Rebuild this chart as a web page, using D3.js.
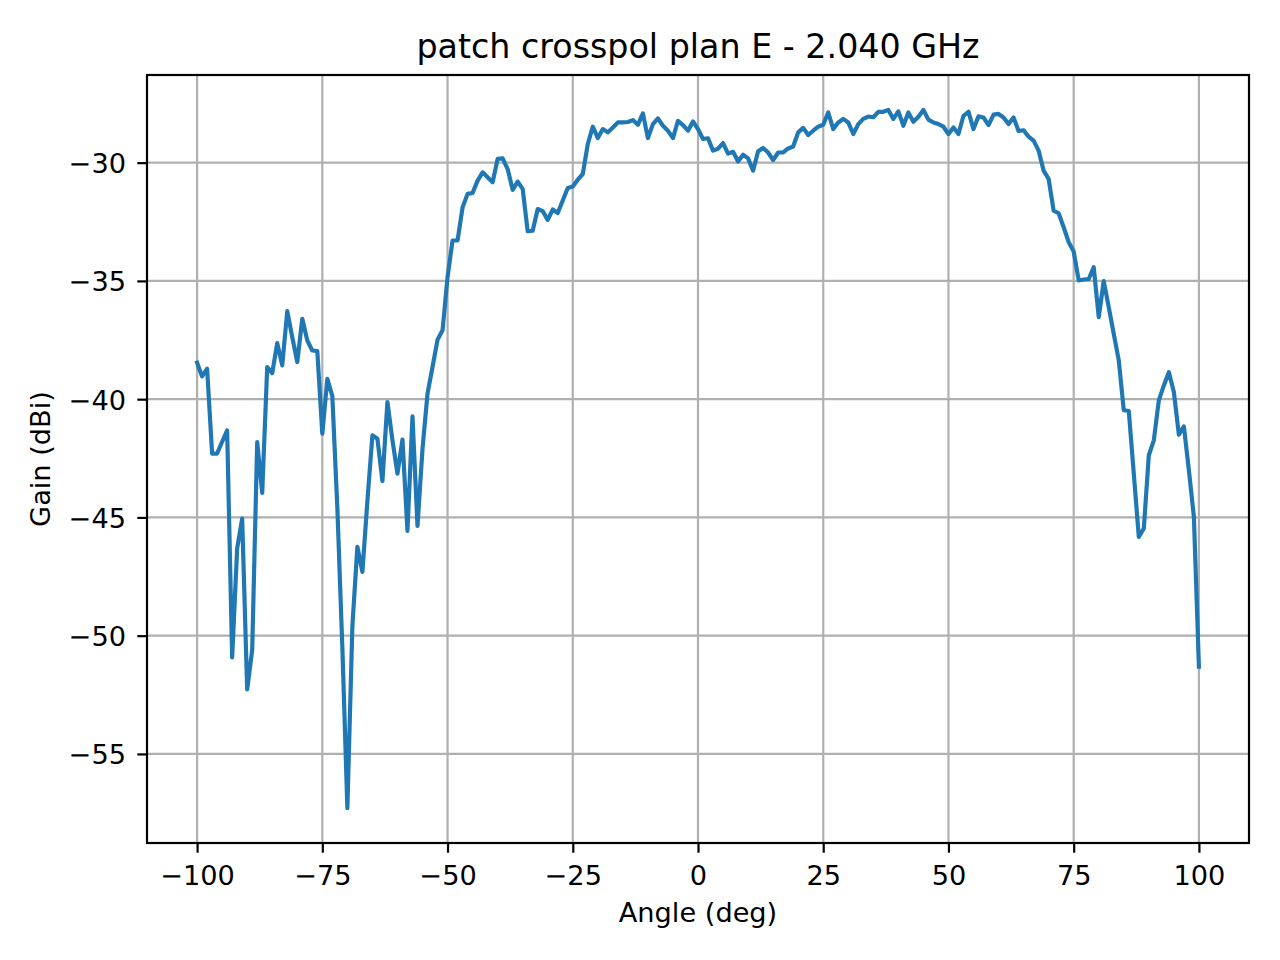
<!DOCTYPE html>
<html>
<head>
<meta charset="utf-8">
<script src="https://cdn.jsdelivr.net/npm/d3@7"></script>
<style>
  html, body { margin: 0; padding: 0; background: #fff; }
  svg { display: block; }
  text { font-family: "DejaVu Sans", sans-serif; fill: #000; }
</style>
</head>
<body>
<svg id="chart" width="1280" height="960"></svg>
<script>
const title = "patch crosspol plan E - 2.040 GHz";
const xLabel = "Angle (deg)";
const yLabel = "Gain (dBi)";
const xTicks = [-100, -75, -50, -25, 0, 25, 50, 75, 100];
const yTicks = [-55, -50, -45, -40, -35, -30];
const angles = d3.range(-100, 101, 1);
const gain = [
  -38.46, -39.04, -38.71, -42.30, -42.30, -41.80, -41.32, -50.92, -46.31, -45.05,
  -52.27, -50.61, -41.81, -43.96, -38.64, -38.90, -37.63, -38.57, -36.28, -37.38,
  -38.43, -36.60, -37.52, -37.94, -37.97, -41.46, -39.14, -39.87, -44.60, -50.50,
  -57.29, -49.60, -46.24, -47.30, -44.30, -41.53, -41.67, -43.46, -40.12, -41.74,
  -43.15, -41.71, -45.57, -40.73, -45.36, -42.10, -39.77, -38.64, -37.49, -37.09,
  -34.84, -33.29, -33.29, -31.89, -31.32, -31.28, -30.76, -30.41, -30.62, -30.83,
  -29.84, -29.82, -30.27, -31.15, -30.80, -31.11, -32.90, -32.88, -31.96, -32.05,
  -32.42, -31.98, -32.13, -31.60, -31.07, -31.01, -30.72, -30.48, -29.21, -28.48,
  -28.96, -28.58, -28.72, -28.51, -28.30, -28.30, -28.28, -28.20, -28.40, -27.92,
  -28.96, -28.37, -28.13, -28.44, -28.65, -28.96, -28.23, -28.41, -28.65, -28.26,
  -28.58,
  -29.00, -28.97, -29.49, -29.41, -29.17, -29.62, -29.54, -29.95, -29.66, -29.82,
  -30.34, -29.52, -29.38, -29.57, -29.89, -29.57, -29.57, -29.40, -29.32, -28.72,
  -28.53, -28.83, -28.65, -28.48, -28.40, -27.88, -28.58, -28.30, -28.15, -28.30,
  -28.79, -28.37, -28.15, -28.05, -28.08, -27.85, -27.85, -27.77, -28.15, -27.83,
  -28.44, -27.88, -28.27, -28.06, -27.77, -28.18, -28.30, -28.37, -28.48, -28.79,
  -28.51, -28.79, -28.02, -27.85, -28.58, -28.04, -28.09, -28.41, -27.97, -27.94,
  -28.09, -28.37, -28.09, -28.66, -28.63, -28.90, -29.07, -29.49, -30.34, -30.69,
  -32.03, -32.14, -32.73, -33.36, -33.76, -34.98, -34.94, -34.92, -34.42, -36.53,
  -35.01, -36.11, -37.24, -38.36, -40.47, -40.50, -43.15, -45.82, -45.47, -42.37,
  -41.74, -40.05, -39.42, -38.86, -39.70, -41.50, -41.15, -43.01, -44.98, -51.31
];

const W = 1280, H = 960;
const box = { left: 147, right: 1249, top: 75, bottom: 843 };
const svg = d3.select("#chart");

const xMin = d3.min(angles), xMax = d3.max(angles);
const xPad = (xMax - xMin) * 0.05;
const yMin = d3.min(gain), yMax = d3.max(gain);
const yPad = (yMax - yMin) * 0.05;

const x = d3.scaleLinear().domain([xMin - xPad, xMax + xPad]).range([box.left, box.right]);
const y = d3.scaleLinear().domain([yMin - yPad, yMax + yPad]).range([box.bottom, box.top]);

const fmt = v => (v < 0 ? "\u2212" + Math.abs(v) : String(v));
const fs = 27.2;
const lw = 2.2;

// grid
const grid = svg.append("g");
grid.selectAll("line.gx").data(xTicks).enter().append("line")
  .attr("x1", d => x(d)).attr("x2", d => x(d))
  .attr("y1", box.top).attr("y2", box.bottom)
  .attr("stroke", "#b0b0b0").attr("stroke-width", lw);
grid.selectAll("line.gy").data(yTicks).enter().append("line")
  .attr("y1", d => y(d)).attr("y2", d => y(d))
  .attr("x1", box.left).attr("x2", box.right)
  .attr("stroke", "#b0b0b0").attr("stroke-width", lw);

// line
const clipId = "plotclip";
svg.append("clipPath").attr("id", clipId).append("rect")
  .attr("x", box.left).attr("y", box.top)
  .attr("width", box.right - box.left).attr("height", box.bottom - box.top);
const line = d3.line().x((d, i) => x(angles[i])).y(d => y(d));
svg.append("path").datum(gain)
  .attr("d", line)
  .attr("fill", "none")
  .attr("stroke", "#1f77b4")
  .attr("stroke-width", 4.17)
  .attr("stroke-linejoin", "round")
  .attr("stroke-linecap", "square")
  .attr("clip-path", `url(#${clipId})`);

// axes via d3
const xAxis = d3.axisBottom(x).tickValues(xTicks).tickFormat(fmt).tickSize(9.7).tickPadding(9.7).tickSizeOuter(0);
const yAxis = d3.axisLeft(y).tickValues(yTicks).tickFormat(fmt).tickSize(9.7).tickPadding(9.7).tickSizeOuter(0);

const gx = svg.append("g").attr("transform", `translate(0,${box.bottom})`).call(xAxis);
const gy = svg.append("g").attr("transform", `translate(${box.left},0)`).call(yAxis);
[gx, gy].forEach(g => {
  g.select(".domain").remove();
  g.selectAll(".tick line").attr("stroke", "#000").attr("stroke-width", lw);
  g.selectAll(".tick text").attr("font-family", "DejaVu Sans").attr("font-size", fs).attr("fill", "#000");
});
gx.selectAll(".tick text").attr("dy", null).attr("y", 42).attr("dominant-baseline", "auto");
gy.selectAll(".tick text").attr("dy", null).attr("x", -21).attr("y", 10).attr("dominant-baseline", "auto");

// frame
svg.append("rect")
  .attr("x", box.left).attr("y", box.top)
  .attr("width", box.right - box.left).attr("height", box.bottom - box.top)
  .attr("fill", "none").attr("stroke", "#000").attr("stroke-width", lw);

// labels
const cx = (box.left + box.right) / 2;
svg.append("text").attr("x", cx).attr("y", 58)
  .attr("text-anchor", "middle").attr("font-size", 33.3).text(title);
svg.append("text").attr("x", cx).attr("y", 922)
  .attr("text-anchor", "middle").attr("font-size", fs).text(xLabel);
svg.append("text")
  .attr("transform", `translate(50,${(box.top + box.bottom) / 2}) rotate(-90)`)
  .attr("text-anchor", "middle").attr("font-size", fs).text(yLabel);
</script>
</body>
</html>
